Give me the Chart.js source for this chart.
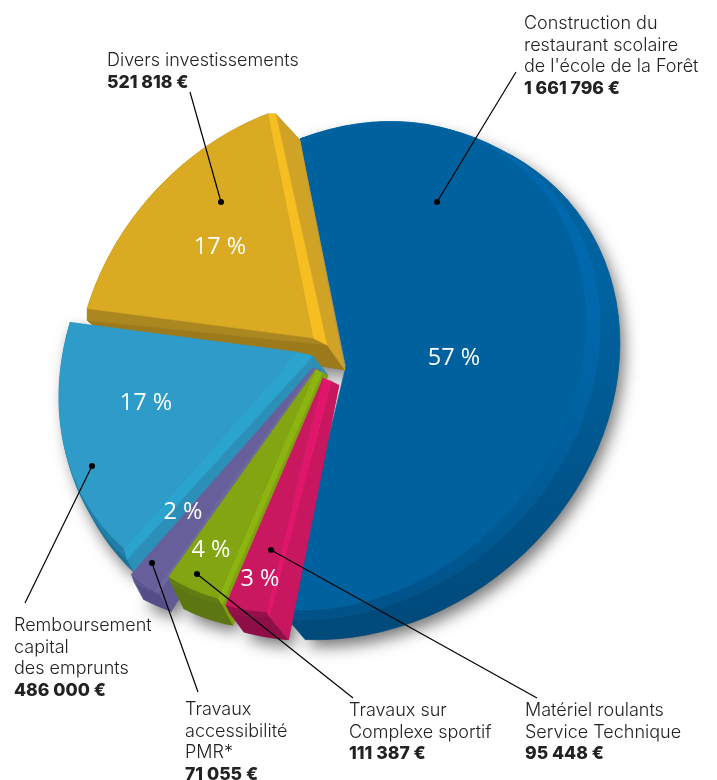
<!DOCTYPE html>
<html><head><meta charset="utf-8">
<style>html,body{margin:0;padding:0;background:#fff}canvas{display:block}</style>
<script src="https://cdn.jsdelivr.net/npm/chart.js@4/dist/chart.umd.js"></script>
</head><body><canvas id="c" width="717" height="780"></canvas>
<script>
// ---- data (clockwise from the top of the pie)
const categories = [
  ["Construction du","restaurant scolaire","de l'école de la Forêt"],
  ["Matériel roulants","Service Technique"],
  ["Travaux sur","Complexe sportif"],
  ["Travaux","accessibilité","PMR*"],
  ["Remboursement","capital","des emprunts"],
  ["Divers investissements"]
];
const amounts = [1661796, 95448, 111387, 71055, 486000, 521818];
const percents = [57, 3, 4, 2, 17, 17];

// ---- styles
const faceColors = ["#00619F","#C9185F","#83A511","#675F9A","#2E9BC8","#DAAB22"];
const shifts  = [[-4,5],[-27,13],[-34,3],[-37,1],[-53,-18],[-37,-29]];
const radii   = [240,230,232,250,238,237];
// depths (screen px): tip / rim at slice start / rim at slice end, for the two wall tiers
const tip1 = [[0,0],[8,3],[6,3],[4,1],[16,4],[14,7]];
const tip2 = [[0,0],[16,7],[12,6],[8,3],[31,23],[32,32]];
const rimS1= [[0,0],[3,5],[4,6],[4,2],[3,11],[0,12]];
const rimS2= [[0,0],[22,28],[15,27],[17,20],[10,24],[12,22]];
const rimE1= [[1,10],[4,8],[3,8],[3,8],[0,0],[8,0]];
const rimE2= [[18,30],[18,27],[15,32],[12,25],[0,0],[32,26]];
const rimM1= [[14,6],null,null,null,null,null];
const rimM2= [[34,18],null,null,null,null,null];
const sideS1=[null,"#E0156B","#8DB510","#6E669F","#2BA3CF","#AB871F"];
const sideS2=[null,"#C8175F","#7FA010","#625A93","#2B8FB8","#9C7A1C"];
const sideE1=[null,null,null,null,null,"#F6BE20"];
const sideE2=[null,null,null,null,null,"#D0A326"];
const rimC1 = [["#0069AE","#005288"],"#96104C","#617D12","#5A5490","#1F7FA8","#9C7A1C"];
const rimC2 = [["#00629F","#004A7C"],"#8E0E47","#5C7612","#544E88","#1B7299","#9C7A1C"];
const drawOrder = [0,5,4,3,2,1];
const shear = 0.19;
const textColor = "#222222";
const fontLight = "300 18px Inter, Lato, sans-serif";
const fontBold  = "800 17.6px Inter, Lato, sans-serif";
const fontPct   = "400 23.5px 'Open Sans', Lato, sans-serif";
// annotation layout (text anchors and leader lines)
const pctAt   = [[454,365],[260,586],[211,557],[183,519],[146,410],[220,254]];
const textAt  = [[524,29],[525,716],[349,716],[185,715],[14,631],[107,66]];
const leaderFrom = [[437,202],[271,550],[197,574],[152,563],[92,466],[221,202]];
const leaderTo   = [[516,72],[537,698],[353,698],[198,692],[25,603],[190,92]];

const fmt = v => String(v).replace(/\B(?=(\d{3})+$)/g," ")+" €";
const lerp=(a,b,t)=>[a[0]+(b[0]-a[0])*t,a[1]+(b[1]-a[1])*t];
// wall depth along the rim: straight from start to end, or a smooth curve through a middle key
const keyed=(s,m,e,t)=>{
  if(!m) return lerp(s,e,t);
  const a=(1-t)*(1-2*t), b=4*t*(1-t), c=t*(2*t-1);
  return [a*s[0]+b*m[0]+c*e[0], a*s[1]+b*m[1]+c*e[1]];
};

class Arc3D extends Chart.ArcElement {
  geometry(){
    const i=this.$context.dataIndex, cx=this.x, cy=this.y;
    const ap=[shifts[i][0],shifts[i][1]], r=radii[i], pts=[], n=60;
    const S=(px,py)=>[cx+px,cy+py-shear*px];
    for(let j=0;j<=n;j++){
      const t=j/n, a=this.startAngle+(this.endAngle-this.startAngle)*t;
      pts.push({p:S(ap[0]+r*Math.cos(a),ap[1]+r*Math.sin(a)),t});
    }
    return {i,A:S(ap[0],ap[1]),pts};
  }
  silhouette(ctx){
    const {i,A,pts}=this.geometry();
    ctx.beginPath();
    ctx.moveTo(A[0]+tip2[i][0],A[1]+tip2[i][1]);
    pts.forEach(o=>{const d=keyed(rimS2[i],rimM2[i],rimE2[i],o.t);ctx.lineTo(o.p[0]+d[0],o.p[1]+d[1]);});
    ctx.closePath();
  }
  draw(ctx){
    const {i,A,pts}=this.geometry();
    const paint=(col)=>{
      let c=col;
      if(Array.isArray(col)){c=ctx.createLinearGradient(0,300,0,620);c.addColorStop(0,col[0]);c.addColorStop(1,col[1]);}
      ctx.fillStyle=c;ctx.strokeStyle=c;ctx.lineWidth=0.6;ctx.lineJoin="round";ctx.fill();ctx.stroke();
    };
    const poly=(arr,col)=>{ctx.beginPath();arr.forEach((p,k)=>k?ctx.lineTo(p[0],p[1]):ctx.moveTo(p[0],p[1]));ctx.closePath();paint(col);};
    const add=(p,d)=>[p[0]+d[0],p[1]+d[1]];
    ctx.save();
    const outer1=[],outer2=[],base=[];
    pts.forEach(o=>{base.push(o.p);outer1.push(add(o.p,keyed(rimS1[i],rimM1[i],rimE1[i],o.t)));outer2.push(add(o.p,keyed(rimS2[i],rimM2[i],rimE2[i],o.t)));});
    poly(outer1.concat(outer2.slice().reverse()),rimC2[i]);
    poly(base.concat(outer1.slice().reverse()),rimC1[i]);
    const last=base.length-1;
    if(sideS2[i]) poly([add(A,tip1[i]),outer1[0],outer2[0],add(A,tip2[i])],sideS2[i]);
    if(sideS1[i]) poly([A,base[0],outer1[0],add(A,tip1[i])],sideS1[i]);
    if(sideE2[i]) poly([add(A,tip1[i]),outer1[last],outer2[last],add(A,tip2[i])],sideE2[i]);
    if(sideE1[i]) poly([A,base[last],outer1[last],add(A,tip1[i])],sideE1[i]);
    poly([A].concat(base),this.options.backgroundColor);
    ctx.restore();
  }
}
Arc3D.id="arc3d";
Arc3D.defaults=Chart.ArcElement.defaults;
Arc3D.defaultRoutes=Chart.ArcElement.defaultRoutes;
Arc3D.descriptors=Chart.ArcElement.descriptors;

class Pie3D extends Chart.PieController {
  draw(){
    const ctx=this.chart.ctx, arcs=this._cachedMeta.data;
    drawOrder.forEach(i=>arcs[i].draw(ctx));
  }
}
Pie3D.id="pie3d";
Pie3D.defaults=Object.assign({},Chart.PieController.defaults,{dataElementType:"arc3d"});
Pie3D.overrides=Chart.PieController.overrides;
Chart.register(Arc3D,Pie3D);

const annotations={
  id:"annotations",
  beforeDatasetsDraw(chart){
    const ctx=chart.ctx, arcs=chart.getDatasetMeta(0).data;
    ctx.save();
    ctx.shadowColor="rgba(0,0,0,0.55)";ctx.shadowBlur=16;ctx.shadowOffsetX=4;ctx.shadowOffsetY=7;
    ctx.fillStyle="#666";
    arcs.forEach(a=>{a.silhouette(ctx);ctx.fill();});
    ctx.restore();
  },
  afterDatasetsDraw(chart){
    const ctx=chart.ctx;
    ctx.save();
    ctx.textBaseline="alphabetic";
    ctx.font=fontPct;ctx.fillStyle="#fff";ctx.textAlign="center";
    percents.forEach((t,i)=>ctx.fillText(t+" %",pctAt[i][0],pctAt[i][1]));
    ctx.textAlign="left";
    ctx.strokeStyle="#000";ctx.fillStyle="#000";ctx.lineWidth=1.2;
    leaderFrom.forEach((p,i)=>{
      ctx.beginPath();ctx.moveTo(p[0],p[1]);ctx.lineTo(leaderTo[i][0],leaderTo[i][1]);ctx.stroke();
      ctx.beginPath();ctx.arc(p[0],p[1],3,0,Math.PI*2);ctx.fill();
    });
    ctx.fillStyle=textColor;
    categories.forEach((lines,i)=>{
      const [x,y]=textAt[i];
      ctx.font=fontLight;
      lines.forEach((l,k)=>ctx.fillText(l,x,y+k*21.5));
      ctx.font=fontBold;
      ctx.fillText(fmt(amounts[i]),x,y+lines.length*21.5);
    });
    ctx.restore();
  }
};

new Chart(document.getElementById("c"),{
  type:"pie3d",
  data:{labels:categories.map(l=>l.join(" ")),datasets:[{data:percents,backgroundColor:faceColors,borderWidth:0}]},
  options:{
    responsive:false,animation:false,rotation:-11,radius:240,
    layout:{padding:{left:0,right:17,top:0,bottom:60}},
    plugins:{legend:{display:false},tooltip:{enabled:false}}
  },
  plugins:[annotations]
});
</script></body></html>
